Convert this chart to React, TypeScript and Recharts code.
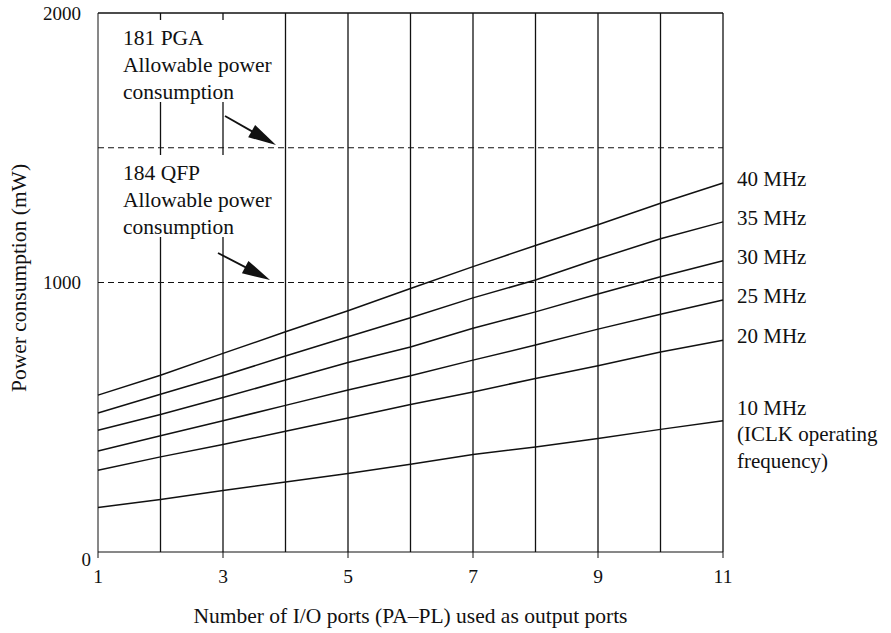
import { LineChart, Line, XAxis, YAxis, ReferenceLine, Label } from 'recharts'

const ports = [1, 2, 3, 4, 5, 6, 7, 8, 9, 10, 11]
const mw40 = [582, 656, 737, 817, 895, 978, 1059, 1137, 1214, 1294, 1369]
const mw35 = [516, 585, 654, 727, 799, 869, 943, 1009, 1088, 1162, 1225]
const mw30 = [452, 510, 573, 638, 703, 761, 830, 891, 957, 1021, 1081]
const mw25 = [375, 431, 487, 544, 601, 654, 712, 768, 827, 882, 935]
const mw20 = [303, 353, 399, 448, 497, 547, 594, 644, 691, 742, 786]
const mw10 = [165, 195, 228, 260, 291, 326, 362, 390, 421, 455, 487]

const xTicks = [1, 3, 5, 7, 9, 11]
const yTicks = [0, 1000, 2000]
const gridPorts = [2, 3, 4, 5, 6, 7, 8, 9, 10, 11]
const limits = [1000, 1500]

const series = [
  { key: 'f40', values: mw40, label: ['40 MHz'] },
  { key: 'f35', values: mw35, label: ['35 MHz'] },
  { key: 'f30', values: mw30, label: ['30 MHz'] },
  { key: 'f25', values: mw25, label: ['25 MHz'] },
  { key: 'f20', values: mw20, label: ['20 MHz'] },
  { key: 'f10', values: mw10, label: ['10 MHz', '(ICLK operating', 'frequency)'] },
]

const data = ports.map((p, i) => {
  const row: Record<string, number> = { ports: p }
  series.forEach((s) => (row[s.key] = s.values[i]))
  return row
})

const FONT = '"Liberation Serif", "Times New Roman", serif'
const INK = '#111'

function endLabel(lines: string[]) {
  return (props: any) => {
    const { x, y, index } = props
    if (index !== ports.length - 1) return null
    const first = lines.length > 1 ? y - 6 : y + 3
    return (
      <text x={x + 14} y={first} fontFamily={FONT} fontSize={21} fill={INK}>
        {lines.map((t, i) => (
          <tspan key={i} x={x + 14} dy={i === 0 ? 0 : 26.5}>
            {t}
          </tspan>
        ))}
      </text>
    )
  }
}

function YTick(props: any) {
  const { x, y, payload } = props
  const zero = payload.value === 0
  return (
    <text
      x={zero ? x + 10 : x}
      y={zero ? y + 7 : y}
      dy="0.35em"
      textAnchor="end"
      fontFamily={FONT}
      fontSize={19}
      fill={INK}
    >
      {payload.value}
    </text>
  )
}

// filled arrowhead pointing at (x2, y2)
function arrowHead(x1: number, y1: number, x2: number, y2: number) {
  const dx = x2 - x1
  const dy = y2 - y1
  const len = Math.hypot(dx, dy)
  const ux = dx / len
  const uy = dy / len
  const bx = x2 - ux * 28
  const by = y2 - uy * 28
  const w = 7
  return `${x2},${y2} ${bx - uy * w},${by + ux * w} ${bx + uy * w},${by - ux * w}`
}

const arrows = [
  [225, 116, 276, 145],
  [218, 253, 270, 280],
]

const notes = [
  { top: 20, lines: ['181 PGA', 'Allowable power', 'consumption'] },
  { top: 155, lines: ['184 QFP', 'Allowable power', 'consumption'] },
]

export default function App() {
  return (
    <div style={{ position: 'absolute', left: 0, top: 0, width: 891, height: 633, background: '#fff' }}>
      <LineChart
        width={891}
        height={633}
        data={data}
        margin={{ top: 13, right: 168, bottom: 31, left: 38 }}
      >
        <XAxis
          dataKey="ports"
          type="number"
          domain={[1, 11]}
          ticks={xTicks}
          height={50}
          stroke={INK}
          tickSize={6}
          tickMargin={11}
          tick={{ fontFamily: FONT, fontSize: 19.5, fill: INK }}
        >
          <Label
            content={() => (
              <text x={410.5} y={623} textAnchor="middle" fontFamily={FONT} fontSize={21.5} fill={INK}>
                Number of I/O ports (PA–PL) used as output ports
              </text>
            )}
          />
        </XAxis>
        <YAxis
          type="number"
          domain={[0, 2000]}
          ticks={yTicks}
          width={60}
          stroke={INK}
          tickLine={false}
          tickMargin={11}
          tick={<YTick />}
        >
          <Label
            content={() => (
              <text
                x={19}
                y={278}
                transform="rotate(-90 19 278)"
                textAnchor="middle"
                dominantBaseline="central"
                fontFamily={FONT}
                fontSize={21.5}
                fill={INK}
              >
                Power consumption (mW)
              </text>
            )}
          />
        </YAxis>
        {gridPorts.map((p) => (
          <ReferenceLine key={p} x={p} stroke={INK} strokeWidth={1.3} />
        ))}
        <ReferenceLine y={2000} stroke={INK} strokeWidth={1.3} />
        {limits.map((v) => (
          <ReferenceLine key={v} y={v} stroke={INK} strokeWidth={1.1} strokeDasharray="6 4" />
        ))}
        {series.map((s) => (
          <Line
            key={s.key}
            dataKey={s.key}
            type="linear"
            stroke={INK}
            strokeWidth={1.5}
            dot={false}
            isAnimationActive={false}
            label={endLabel(s.label)}
          />
        ))}
      </LineChart>
      {notes.map((n, i) => (
        <div
          key={i}
          style={{
            position: 'absolute',
            left: 100,
            top: n.top,
            width: 182,
            height: 82,
            background: '#fff',
            boxSizing: 'border-box',
            paddingLeft: 23,
            paddingTop: 5,
            fontFamily: FONT,
            fontSize: 21.5,
            lineHeight: '27px',
            color: INK,
            whiteSpace: 'nowrap',
          }}
        >
          {n.lines.map((t, j) => (
            <div key={j}>{t}</div>
          ))}
        </div>
      ))}
      <svg width={891} height={633} style={{ position: 'absolute', left: 0, top: 0, pointerEvents: 'none' }}>
        {arrows.map(([x1, y1, x2, y2], i) => (
          <g key={i}>
            <line x1={x1} y1={y1} x2={x2 - (x2 - x1) * 0.3} y2={y2 - (y2 - y1) * 0.3} stroke={INK} strokeWidth={1.8} />
            <polygon points={arrowHead(x1, y1, x2, y2)} fill={INK} />
          </g>
        ))}
      </svg>
    </div>
  )
}
